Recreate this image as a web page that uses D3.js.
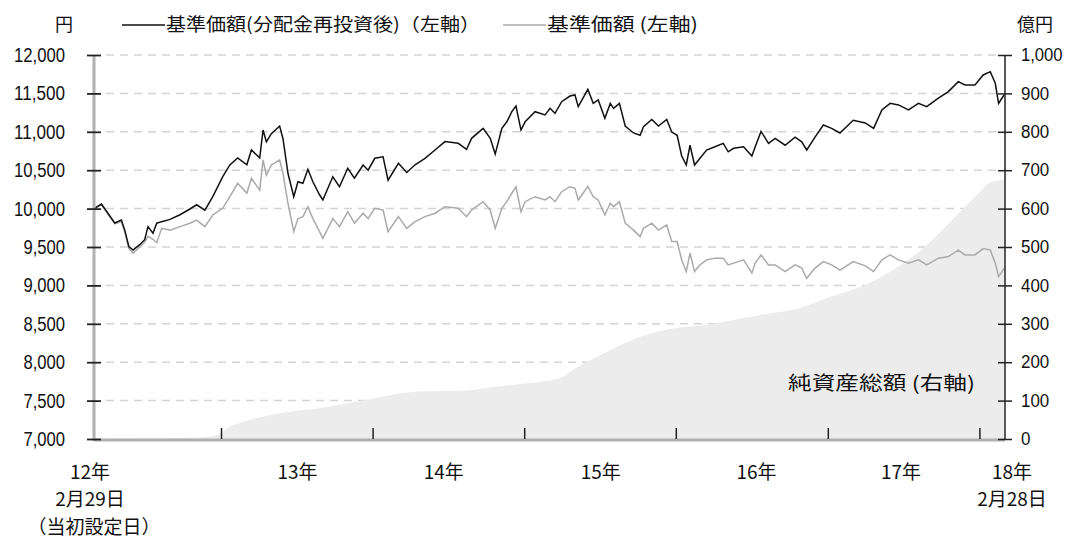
<!DOCTYPE html>
<html>
<head>
<meta charset="utf-8">
<script src="https://cdn.jsdelivr.net/npm/d3@7"></script>
<style>
  body { margin: 0; background: #fff; }
  .num { font-family: "Liberation Sans Narrow", "Arial Narrow", "Liberation Sans", sans-serif; font-size: 20px; fill: #111; }
  .numR { font-family: "Liberation Sans Narrow", "Arial Narrow", "Liberation Sans", sans-serif; font-size: 18px; fill: #111; }
  .jp { font-family: "Noto Sans CJK JP", sans-serif; fill: #111; }
</style>
</head>
<body>
<div class="canvas"></div>
<script>
const width = 1070
const height = 540

// 基準価額の日付
const priceDates = [
  "2012-02-29","2012-03-18","2012-04-19","2012-05-05","2012-05-13","2012-05-23","2012-06-02","2012-06-18","2012-06-30","2012-07-08",
  "2012-07-20","2012-07-29","2012-08-10","2012-08-30","2012-09-23","2012-10-17","2012-11-02","2012-11-22","2012-12-11",
  "2013-01-04","2013-01-21","2013-02-09","2013-03-03","2013-03-14","2013-04-03","2013-04-11","2013-04-19","2013-05-01","2013-05-21",
  "2013-05-29","2013-06-10","2013-06-24","2013-07-04","2013-07-16","2013-07-28","2013-08-09","2013-08-25","2013-09-02","2013-09-26",
  "2013-10-12","2013-11-01","2013-11-17","2013-12-08","2013-12-20",
  "2014-01-05","2014-01-25","2014-02-06","2014-03-03","2014-03-23","2014-04-12","2014-05-06","2014-05-30","2014-06-23","2014-07-25",
  "2014-08-14","2014-08-26","2014-09-23","2014-10-10","2014-10-22","2014-11-07","2014-11-19","2014-12-01","2014-12-11","2014-12-23",
  "2015-01-02","2015-01-26","2015-02-19","2015-03-03","2015-03-15","2015-03-31","2015-04-20","2015-05-02","2015-05-10","2015-06-02",
  "2015-06-15","2015-06-27","2015-07-13","2015-07-26","2015-08-03","2015-08-17","2015-08-31","2015-09-20","2015-10-06","2015-10-14",
  "2015-11-03","2015-11-19","2015-12-09","2015-12-21",
  "2016-01-03","2016-01-14","2016-01-25","2016-02-03","2016-02-14","2016-02-27","2016-03-14","2016-04-03","2016-04-23","2016-05-05",
  "2016-05-18","2016-06-11","2016-07-01","2016-07-09","2016-07-23","2016-08-10","2016-08-26","2016-09-19","2016-10-13","2016-10-29",
  "2016-11-10","2016-11-30","2016-12-20",
  "2017-01-09","2017-01-29","2017-03-02","2017-03-31","2017-04-20","2017-05-10","2017-05-30","2017-06-19","2017-07-13","2017-08-06",
  "2017-08-26","2017-09-23","2017-10-17","2017-11-10","2017-11-26","2017-12-20",
  "2018-01-09","2018-01-26","2018-02-07","2018-02-15","2018-02-23","2018-02-28"
]

// 基準価額(分配金再投資後)
const navReinvested = [
  10000,10060,9812,9850,9720,9504,9460,9530,9595,9765,
  9680,9810,9830,9860,9920,9995,10050,9980,10155,
  10415,10568,10660,10570,10763,10660,11023,10870,10975,11075,
  10910,10460,10155,10350,10330,10512,10350,10180,10112,10415,
  10285,10525,10395,10568,10500,
  10655,10675,10370,10590,10470,10570,10655,10763,10872,10850,
  10770,10915,11045,10915,10710,11045,11130,11262,11336,11023,
  11130,11262,11220,11306,11240,11392,11466,11480,11328,11553,
  11370,11415,11175,11370,11306,11370,11075,10985,10955,11065,
  11160,11075,11160,10997,
  10955,10685,10568,10825,10568,10655,10763,10805,10850,10740,
  10785,10805,10685,10805,11005,10850,10915,10825,10930,10870,
  10763,10930,11089,
  11045,10985,11150,11115,11045,11284,11370,11350,11284,11370,
  11328,11437,11523,11653,11610,11610,
  11740,11783,11632,11370,11437,11480
]

// 基準価額
const navPrice = [
  10000,10050,9800,9830,9700,9480,9420,9500,9560,9640,
  9600,9555,9743,9720,9765,9810,9850,9765,9917,
  10004,10155,10330,10200,10395,10240,10633,10435,10568,10633,
  10460,10069,9700,9870,9895,10025,9870,9700,9613,9870,
  9765,9960,9810,9940,9870,
  10004,9980,9700,9895,9743,9830,9895,9940,10025,10004,
  9895,9980,10090,9980,9743,10004,10090,10200,10285,9960,
  10090,10155,10112,10155,10090,10220,10285,10265,10112,10290,
  10155,10110,9917,10069,10025,10090,9810,9720,9635,9743,
  9810,9720,9787,9570,
  9570,9332,9180,9420,9180,9267,9332,9355,9355,9267,
  9290,9332,9160,9290,9397,9267,9267,9180,9267,9225,
  9093,9225,9310,
  9267,9200,9310,9255,9180,9332,9397,9332,9290,9332,
  9267,9355,9375,9460,9397,9397,
  9480,9460,9290,9115,9180,9225
]

// 純資産総額(億円)
const assetDates = [
  "2012-02-29","2012-07-13","2012-11-26","2013-01-04","2013-01-21","2013-02-09","2013-03-26","2013-05-21","2013-08-25","2013-11-01",
  "2014-01-05","2014-04-12","2014-08-10","2014-10-22","2015-02-07","2015-03-27","2015-04-27","2015-07-18","2015-10-06","2015-12-25",
  "2016-03-14","2016-06-03","2016-08-14","2016-10-21","2017-01-09","2017-03-31","2017-06-19","2017-08-22","2017-10-10","2017-11-26",
  "2017-12-29","2018-01-22","2018-02-28"
]
const netAssets = [
  0,1,5,19,32,40,54,67,80,93,
  106,123,126,136,149,158,180,227,266,288,
  297,314,327,340,371,401,449,501,553,605,
  640,666,675
]

const leftTicks = [7000,7500,8000,8500,9000,9500,10000,10500,11000,11500,12000]
const rightTicks = [0,100,200,300,400,500,600,700,800,900,1000]
const yearTicks = ["2013-01-01","2014-01-01","2015-01-01","2016-01-01","2017-01-01","2018-01-01"]
const yearLabels = [
  {date: "2013-07-03", lines: ["13年"]},
  {date: "2014-06-20", lines: ["14年"]},
  {date: "2015-07-03", lines: ["15年"]},
  {date: "2016-07-12", lines: ["16年"]},
  {date: "2017-06-25", lines: ["17年"]}
]

const parse = d3.timeParse("%Y-%m-%d")

const svg = d3.select(".canvas")
    .append("svg")
    .attr("width", width)
    .attr("height", height)

const startDate = parse("2012-02-29")
const endDate = parse("2018-02-28")

const x = d3.scaleTime().domain([startDate, endDate]).range([94, 1004])
const yL = d3.scaleLinear().domain([7000, 12000]).range([439, 55])
const yR = d3.scaleLinear().domain([0, 1000]).range([439, 55])

// narrow digits like the original
function numLength(s) {
    return s.split("").reduce((a, c) => a + (c == "," ? 4 : 9.4), 0)
}

// grid lines
svg.append("g")
    .selectAll("line")
    .data(leftTicks.slice(1))
    .enter()
    .append("line")
    .attr("x1", 106)
    .attr("x2", 1000)
    .attr("y1", d => yL(d))
    .attr("y2", d => yL(d))
    .attr("stroke", "#d4d4d4")
    .attr("stroke-width", 1.5)
    .attr("stroke-dasharray", "8,6")

// net assets area
const assets = assetDates.map((d, i) => ({date: parse(d), value: netAssets[i]}))
const area = d3.area()
    .x(d => x(d.date))
    .y0(yR(0))
    .y1(d => yR(d.value))
    .curve(d3.curveMonotoneX)

svg.append("path")
    .datum(assets)
    .attr("fill", "#ececec")
    .attr("d", area)

svg.append("text")
    .attr("class", "jp")
    .attr("x", 788)
    .attr("y", 381)
    .attr("dominant-baseline", "central")
    .attr("font-size", 19)
    .attr("textLength", 187)
    .attr("lengthAdjust", "spacingAndGlyphs")
    .text("純資産総額 (右軸)")

// price lines
const prices = priceDates.map((d, i) => ({date: parse(d), re: navReinvested[i], nav: navPrice[i]}))

svg.append("path")
    .datum(prices)
    .attr("fill", "none")
    .attr("stroke", "#aaaaaa")
    .attr("stroke-width", 1.5)
    .attr("d", d3.line().x(d => x(d.date)).y(d => yL(d.nav)))

svg.append("path")
    .datum(prices)
    .attr("fill", "none")
    .attr("stroke", "#111")
    .attr("stroke-width", 1.5)
    .attr("d", d3.line().x(d => x(d.date)).y(d => yL(d.re)))

// bottom axis
svg.append("line")
    .attr("x1", x(startDate)).attr("x2", 1005)
    .attr("y1", 440).attr("y2", 440)
    .attr("stroke", "#b0b0b0").attr("stroke-width", 3)

svg.append("g")
    .selectAll("line")
    .data(yearTicks)
    .enter()
    .append("line")
    .attr("x1", d => x(parse(d)))
    .attr("x2", d => x(parse(d)))
    .attr("y1", 428)
    .attr("y2", 439)
    .attr("stroke", "#222")
    .attr("stroke-width", 1.5)

// left axis
const leftAxis = svg.append("g")
    .attr("transform", `translate(${x(startDate)},0)`)
    .call(d3.axisLeft(yL).tickValues(leftTicks).tickSize(7).tickPadding(22).tickFormat(d3.format(",")))

leftAxis.select(".domain").remove()
leftAxis.insert("line", ":first-child")
    .attr("y1", 55).attr("y2", 441)
    .attr("stroke", "#b0b0b0").attr("stroke-width", 3)
leftAxis.selectAll(".tick line")
    .attr("x1", 7).attr("x2", -7)
    .attr("stroke", "#222").attr("stroke-width", 1.8)
leftAxis.selectAll(".tick text")
    .attr("class", "num")
    .attr("font-family", null).attr("font-size", null)
    .attr("textLength", function() { return numLength(this.textContent) })
    .attr("lengthAdjust", "spacingAndGlyphs")

// right axis
const rightAxis = svg.append("g")
    .attr("transform", "translate(1005,0)")
    .call(d3.axisRight(yR).tickValues(rightTicks).tickSize(7).tickPadding(9).tickFormat(d3.format(",")))

rightAxis.select(".domain").remove()
rightAxis.insert("line", ":first-child")
    .attr("y1", 55).attr("y2", 440)
    .attr("stroke", "#222").attr("stroke-width", 1.5)
rightAxis.selectAll(".tick line")
    .attr("x1", -7).attr("x2", 7)
    .attr("stroke", "#222").attr("stroke-width", 1.5)
rightAxis.selectAll(".tick text")
    .attr("class", "numR")
    .attr("font-family", null).attr("font-size", null)
    .attr("textLength", function() { return numLength(this.textContent) })
    .attr("lengthAdjust", "spacingAndGlyphs")

// x labels
const xl = svg.append("g").attr("class", "jp").attr("font-size", 19).attr("text-anchor", "middle")

xl.selectAll("text.year")
    .data(yearLabels)
    .enter()
    .append("text")
    .attr("class", "year")
    .attr("x", d => x(parse(d.date)))
    .attr("y", 470)
    .attr("dominant-baseline", "central")
    .text(d => d.lines[0])

const firstLines = ["12年", "2月29日", "（当初設定日）"]
xl.selectAll("text.first")
    .data(firstLines)
    .enter()
    .append("text")
    .attr("class", "first")
    .attr("x", (d, i) => i == 2 ? x(startDate) : x(startDate) - 4)
    .attr("y", (d, i) => 470 + i * 27.5)
    .attr("dominant-baseline", "central")
    .text(d => d)

const lastLines = ["18年", "2月28日"]
xl.selectAll("text.last")
    .data(lastLines)
    .enter()
    .append("text")
    .attr("class", "last")
    .attr("x", x(endDate) + 8)
    .attr("y", (d, i) => 470 + i * 27.5)
    .attr("dominant-baseline", "central")
    .text(d => d)

// unit labels
svg.append("text").attr("class", "jp").attr("font-size", 18)
    .attr("x", 64).attr("y", 23).attr("text-anchor", "middle")
    .attr("dominant-baseline", "central").text("円")

svg.append("text").attr("class", "jp").attr("font-size", 18)
    .attr("x", 1035).attr("y", 23).attr("text-anchor", "middle")
    .attr("dominant-baseline", "central").text("億円")

// legend
const legend = [
  {x1: 122, x2: 165, color: "#111", label: "基準価額(分配金再投資後)（左軸）", tx: 166, tl: 314},
  {x1: 503, x2: 546, color: "#aaaaaa", label: "基準価額 (左軸)", tx: 547, tl: 151}
]

const lg = svg.append("g")
lg.selectAll("line")
    .data(legend)
    .enter()
    .append("line")
    .attr("x1", d => d.x1).attr("x2", d => d.x2)
    .attr("y1", 25).attr("y2", 25)
    .attr("stroke", d => d.color).attr("stroke-width", 1.5)

lg.selectAll("text")
    .data(legend)
    .enter()
    .append("text")
    .attr("class", "jp")
    .attr("font-size", 18)
    .attr("x", d => d.tx)
    .attr("y", 23)
    .attr("dominant-baseline", "central")
    .attr("textLength", d => d.tl)
    .attr("lengthAdjust", "spacingAndGlyphs")
    .text(d => d.label)
</script>
</body>
</html>
